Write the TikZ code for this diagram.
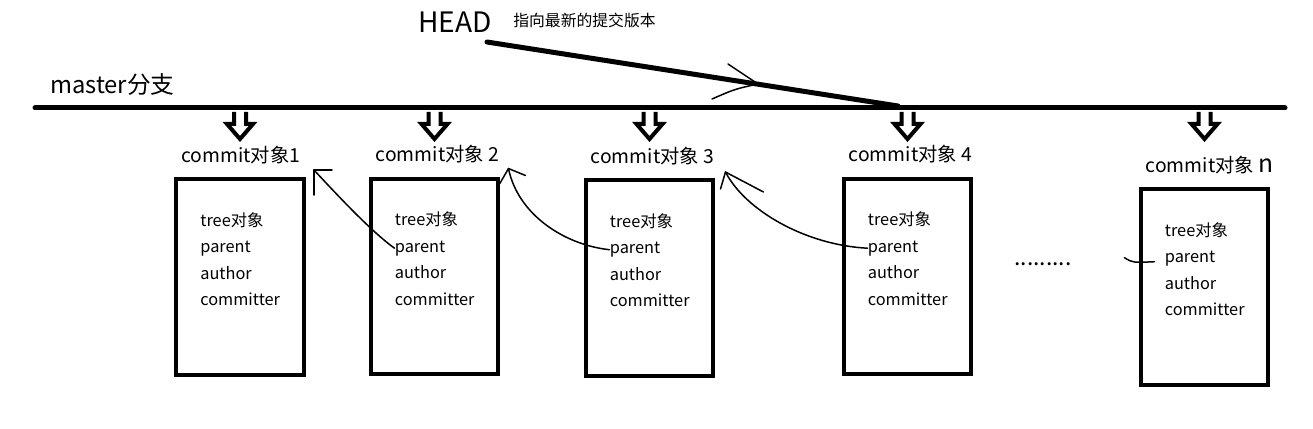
\documentclass[tikz,border=0pt]{standalone}
\usepackage{fontspec}
\newfontfamily\cjk{Noto Sans CJK SC}
\usetikzlibrary{calc,positioning}
% one commit object: box, title, fields and the hollow arrow from the branch line
\def\commitobj#1(#2,#3)#4{%
  \node[objbox] (c#1) at (#2,#3) {};
  \node[objtitle] (t#1) at ($(c#1.north west)+(7,-22)$) {commit对象#4};
  \node[field] (tree#1) at ($(c#1.north west)+(26,49)$) {tree对象};
  \node[field] (parent#1) at ($(c#1.north west)+(26,75.5)$) {parent};
  \node[field] (author#1) at ($(c#1.north west)+(26,102)$) {author};
  \node[field] (committer#1) at ($(c#1.north west)+(26,128.5)$) {committer};
  \draw[hollow] (c#1.north |- mline) ++(-6,4) -- ++(0,12) -- ++(-7,0) -- ++(13,15) -- ++(13,-15) -- ++(-7,0) -- ++(0,-12);
}

\begin{document}
\begin{tikzpicture}[x=0.02cm,y=-0.02cm,
    objbox/.style={draw,line width=0.08cm,minimum width=2.56cm,minimum height=3.92cm,inner sep=0},
    objtitle/.style={anchor=west,inner sep=0,font=\cjk\fontsize{11}{13}\selectfont},
    field/.style={anchor=base west,inner sep=0,font=\cjk\fontsize{9.3}{11}\selectfont},
    hollow/.style={line width=0.08cm},
    sketch/.style={line width=0.03cm,line cap=round}]
  %%%%% START %%%%%
  \useasboundingbox (0,0) rectangle (1313,429);

  % branch line
  \coordinate (mline) at (35,108);
  \coordinate (mend) at (1285,108);
  \draw[line width=0.1cm,line cap=round] (mline) -- (mend);
  \node[anchor=west,inner sep=0,font=\cjk\fontsize{13.5}{15}\selectfont] (master) at (50,85) {master分支};

  % HEAD
  \node[anchor=west,inner sep=0,font=\cjk\fontsize{16}{18}\selectfont] (head) at (418,22) {HEAD};
  \node[anchor=west,inner sep=0,font=\cjk\fontsize{9}{11}\selectfont] (headnote) at (513,20) {指向最新的提交版本};
  \coordinate (headtail) at (487,42);
  \coordinate (headtip) at (898,106);
  \coordinate (headmark) at (758,84);
  \draw[line width=0.1cm,line cap=round] (headtail) -- (headtip);
  \draw[sketch] (headmark) -- ++(-30,-20);
  \draw[sketch] (headmark) .. controls (735,89) .. ++(-46,15);

  % commit objects
  \commitobj{1}(240,277){1}
  \commitobj{2}(434.5,276.5){ 2}
  \commitobj{3}(649.5,278){ 3}
  \commitobj{4}(907.5,276.5){ 4}
  \commitobj{n}(1204.5,287){ {\fontsize{14}{14}\selectfont n}}

  \node[anchor=base west,inner sep=0,font=\cjk\fontsize{13}{15}\selectfont] (dots) at (1014,265) {.........};

  % parent links
  \coordinate (tip1) at ($(c1.north east)+(8,-7)$);
  \coordinate (tip2) at ($(c2.north east)+(8,-8)$);
  \coordinate (tip3) at ($(c3.north east)+(10,-6)$);
  \coordinate (stubn) at ($(parentn.west)+(-40,-1)$);

  \draw[sketch] (parent2.west) .. controls (372,232) and (340,198) .. (tip1);
  \draw[sketch] (tip1) -- ++(0,25);
  \draw[sketch] (tip1) -- ++(18,0);

  \draw[sketch] (parent3.west) .. controls (565,245) and (518,215) .. (tip2);
  \draw[sketch] (tip2) -- ++(-11,19);
  \draw[sketch] (tip2) -- ++(17,7);

  \draw[sketch] (parent4.west) .. controls (805,245) and (745,210) .. (tip3);
  \draw[sketch] (tip3) -- ++(38,20);
  \draw[sketch] (tip3) -- ++(-5,17);

  \draw[sketch] (stubn) .. controls ($(stubn)+(8,5)$) .. ($(parentn.west)+(-10,3)$);
  %%%%% END %%%%%
\end{tikzpicture}
\end{document}
